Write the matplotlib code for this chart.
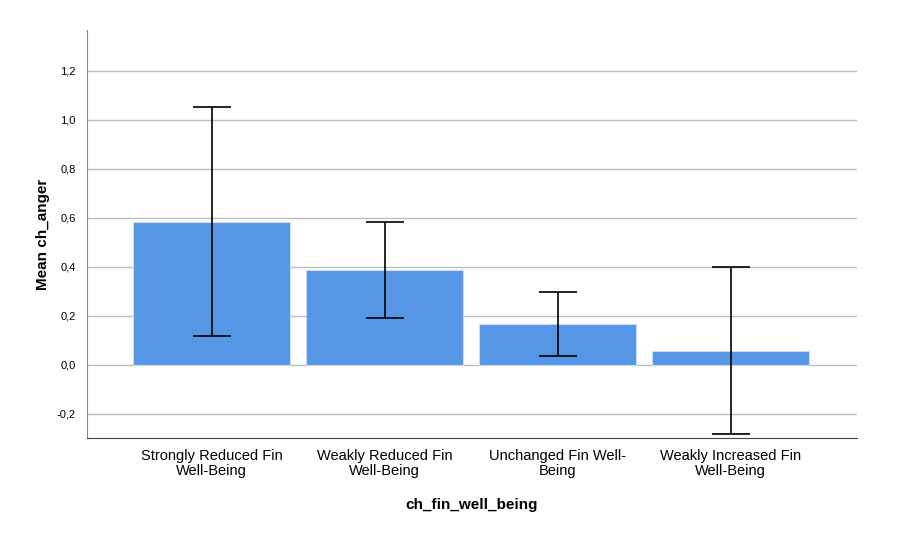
import numpy as np
import matplotlib.pyplot as plt

plt.rcParams['font.family'] = ['Liberation Sans', 'DejaVu Sans']

# group labels and means with 95% CI bounds
groups = ['Strongly Reduced Fin\nWell-Being', 'Weakly Reduced Fin\nWell-Being',
          'Unchanged Fin Well-\nBeing', 'Weakly Increased Fin\nWell-Being']
means = [0.584, 0.388, 0.168, 0.058]
ci_low = [0.118, 0.193, 0.037, -0.282]
ci_high = [1.051, 0.585, 0.298, 0.398]
yticks = [-0.2, 0.0, 0.2, 0.4, 0.6, 0.8, 1.0, 1.2]

fig = plt.figure(figsize=(9.07, 5.44), dpi=100)
ax = fig.add_axes([0.0959, 0.1949, 0.849, 0.75])

x = np.arange(len(groups))
means = np.array(means)
err = [means - np.array(ci_low), np.array(ci_high) - means]

ax.bar(x, means, width=0.905, color='#5596e6', edgecolor='#c8dcf5', linewidth=0.8, zorder=2)
ax.errorbar(x, means, yerr=err, fmt='none', ecolor='black', elinewidth=1.2,
            capsize=13.5, capthick=1.2, zorder=3)

ax.set_xlim(-0.72, 3.73)
ax.set_ylim(-0.298, 1.367)
ax.set_yticks(yticks)
ax.set_yticklabels([('%.1f' % v).replace('.', ',') for v in yticks], fontsize=8)
ax.set_xticks(x)
ax.set_xticklabels(groups, fontsize=10.5, linespacing=1.1)
ax.tick_params(axis='both', length=0, pad=8)
ax.tick_params(axis='x', pad=8)

ax.grid(axis='y', color='#bdbdbd', linewidth=1, zorder=0)
ax.set_axisbelow(True)
for s in ['top', 'right']:
    ax.spines[s].set_visible(False)
ax.spines['left'].set_color('#888888')
ax.spines['bottom'].set_color('#444444')

ax.set_ylabel('Mean ch_anger', fontsize=11, fontweight='bold', labelpad=5)
ax.set_xlabel('ch_fin_well_being', fontsize=11, fontweight='bold', labelpad=14)

plt.savefig('out.png', dpi=100)
